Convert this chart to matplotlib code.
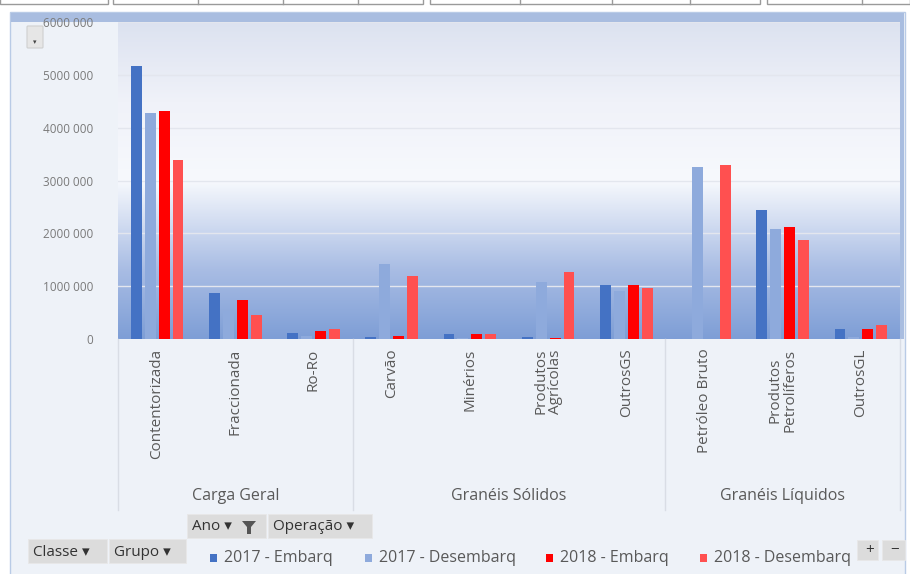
import numpy as np
import matplotlib
matplotlib.use('Agg')
import matplotlib.pyplot as plt
from matplotlib.colors import LinearSegmentedColormap
from matplotlib.patches import Rectangle, FancyBboxPatch, Polygon
from matplotlib.transforms import blended_transform_factory

plt.rcParams['font.family'] = ['Open Sans', 'DejaVu Sans']

# data
categories = ['Contentorizada', 'Fraccionada', 'Ro-Ro', 'Carvão', 'Minérios',
              'Produtos\nAgrícolas', 'OutrosGS', 'Petróleo Bruto',
              'Produtos\nPetrolíferos', 'OutrosGL']
groups = ['Carga Geral', 'Granéis Sólidos', 'Granéis Líquidos']
group_sizes = [3, 4, 3]
series = ['2017 - Embarq', '2017 - Desembarq', '2018 - Embarq', '2018 - Desembarq']
emb_2017 = [5170000, 870000, 110000, 40000, 90000, 30000, 1020000, 0, 2440000, 190000]
des_2017 = [4280000, 530000, 50000, 1420000, 20000, 1080000, 910000, 3260000, 2080000, 30000]
emb_2018 = [4320000, 740000, 150000, 50000, 90000, 10000, 1020000, 0, 2120000, 190000]
des_2018 = [3390000, 450000, 190000, 1190000, 90000, 1270000, 970000, 3300000, 1880000, 270000]
yticks = [0, 1000000, 2000000, 3000000, 4000000, 5000000, 6000000]
ytick_labels = ['0', '1000 000', '2000 000', '3000 000', '4000 000', '5000 000', '6000 000']

colors = ['#4472c4', '#8eaadc', '#ff0000', '#ff5050']

W, H = 910, 574
fig = plt.figure(figsize=(W / 100, H / 100), dpi=100)
fig.patch.set_facecolor('white')


def px(x0, y0, x1, y1):
    # pixel box (top-left origin) -> figure fraction rect
    return [x0 / W, 1 - y1 / H, (x1 - x0) / W, (y1 - y0) / H]


# chart frame
bg = fig.add_axes([0, 0, 1, 1], zorder=-5)
bg.set_xlim(0, W)
bg.set_ylim(H, 0)
bg.axis('off')
bg.add_patch(Rectangle((10, 12), 895, 570, facecolor='#eef2f8', edgecolor='#b9cbe6', lw=1))
# top tabs of the sheet
for x0, x1 in [(0, 108), (113, 423), (430, 760), (767, 910)]:
    bg.add_patch(Rectangle((x0, -4), x1 - x0, 8, facecolor='white', edgecolor='#9a9a9a', lw=1))
for xx in [198, 283, 358, 520, 612, 690, 862]:
    bg.plot([xx, xx], [0, 4], color='#9a9a9a', lw=1)

# left and top blue gradients
left_cmap = LinearSegmentedColormap.from_list('l', ['#a7bbe0', '#c9d5ec', '#eef2f8'])
grad = np.linspace(0, 1, 256).reshape(-1, 1)
bg.imshow(grad, cmap=left_cmap, extent=[11, 118, 339, 13], aspect='auto', zorder=0)
bg.set_xlim(0, W)
bg.set_ylim(H, 0)
bg.add_patch(Rectangle((11, 13), 893, 9, facecolor='#a9bde0', edgecolor='none', zorder=1))
bg.add_patch(Rectangle((900, 13), 4, 326, facecolor='#a9bde0', edgecolor='none', zorder=1))

# small handle button in top-left
bg.add_patch(FancyBboxPatch((28, 27), 14, 20, boxstyle='round,pad=1', facecolor='#e6e6e6',
                            edgecolor='#cfcfcf', lw=0.8, zorder=3))
bg.text(35, 43, '▾', fontsize=5, ha='center', va='center', color='#444444', zorder=4)

# main axes
ax = fig.add_axes(px(118, 22, 900, 339))
x = np.arange(len(categories))
ax.set_xlim(-0.5, len(categories) - 0.5)
ax.set_ylim(0, 6000000)

plot_cmap = LinearSegmentedColormap.from_list(
    'p', [(0, '#7e9ed6'), (0.22, '#a9bde4'), (0.5, '#f7f9fd'), (0.75, '#f0f2f9'), (1, '#dce2f0')])
ax.imshow(np.linspace(0, 1, 256).reshape(-1, 1), cmap=plot_cmap, origin='lower',
          extent=[-0.5, len(categories) - 0.5, 0, 6000000], aspect='auto', zorder=0)
for t in yticks[1:]:
    ax.axhline(t, color='#e3e6ee', lw=1, zorder=1)

step = 0.178
width = 0.14
for i, (vals, c) in enumerate(zip([emb_2017, des_2017, emb_2018, des_2018], colors)):
    ax.bar(x + (i - 1.5) * step, vals, width=width, color=c, zorder=3)

for s in ax.spines.values():
    s.set_visible(False)
ax.set_yticks(yticks)
ax.set_yticklabels(ytick_labels, fontsize=8.5, color='#7a7a7a')
ax.tick_params(axis='y', length=0, pad=18)
ax.set_xticks(x)
ax.set_xticklabels(categories, rotation=90, fontsize=11, color='#595959', va='top',
                   linespacing=0.95)
ax.tick_params(axis='x', length=0, pad=7)

# group labels and separators
tr = blended_transform_factory(ax.transData, ax.transAxes)
start = 0
bounds = [-0.5]
for g, n in zip(groups, group_sizes):
    mid = start + (n - 1) / 2
    ax.text(mid, -0.494, g, transform=tr, ha='center', va='center', fontsize=11.5,
            color='#595959')
    start += n
    bounds.append(start - 0.5)
for b in bounds:
    ax.plot([b, b], [0, -0.54], transform=tr, color='#d9dde5', lw=1, clip_on=False)


# pivot buttons
def button(x0, y0, x1, y1, label, arrow='▾'):
    bg.add_patch(Rectangle((x0, y0), x1 - x0, y1 - y0, facecolor='#dcdcdc',
                           edgecolor='#e8e8e8', lw=0.6, zorder=3))
    bg.text(x0 + 5, (y0 + y1) / 2 + 1, label + ' ' + arrow, fontsize=11, ha='left',
            va='center', color='#333333', zorder=4)


button(28, 539, 107, 563, 'Classe')
button(109, 539, 186, 563, 'Grupo')
button(187, 514, 266, 538, 'Ano', '▾')
bg.add_patch(Polygon([[242, 521], [256, 521], [251, 527], [251, 534], [247, 534], [247, 527]],
                     closed=True, facecolor='#555555', edgecolor='none', zorder=5))
button(268, 514, 372, 538, 'Operação')
button(857, 540, 878, 560, '', '+')
button(882, 540, 905, 560, '', '−')

# legend
leg_x = [213, 368, 549, 703]
for lx, lab, c in zip(leg_x, series, colors):
    bg.add_patch(Rectangle((lx - 3, 554), 7, 8, facecolor=c, edgecolor='none', zorder=3))
    bg.text(lx + 11, 558, lab, fontsize=11.5, ha='left', va='center', color='#595959', zorder=4)

fig.savefig('out.png', dpi=100)
